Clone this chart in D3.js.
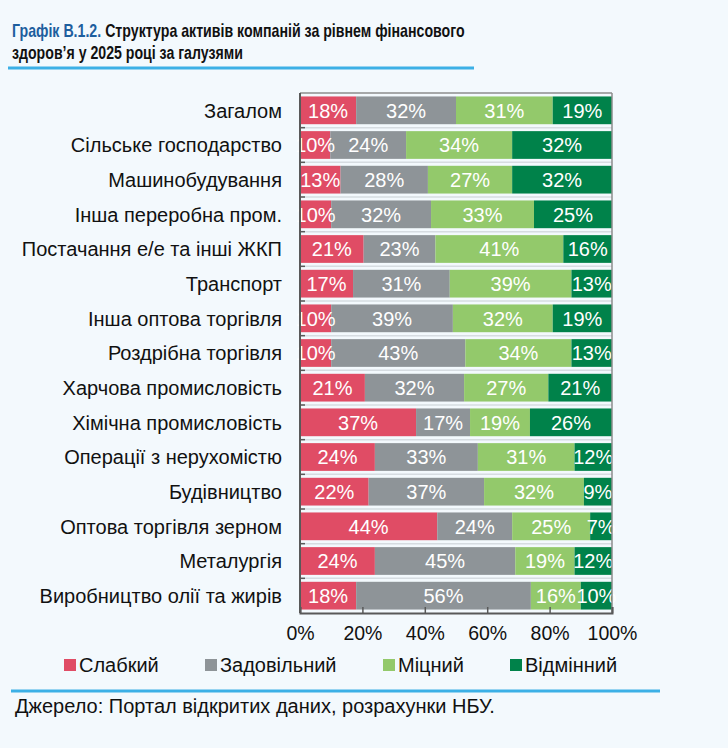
<!DOCTYPE html>
<html>
<head>
<meta charset="utf-8">
<script src="https://cdn.jsdelivr.net/npm/d3@7"></script>
<style>
  body { margin: 0; background: #f3f9fd; }
  svg { display: block; font-family: "Liberation Sans", Arial, sans-serif; }
</style>
</head>
<body>
<div id="chart"></div>
<script>
// industries, top to bottom
var categories = ["Загалом", "Сільське господарство", "Машинобудування", "Інша переробна пром.",
  "Постачання е/е та інші ЖКП", "Транспорт", "Інша оптова торгівля", "Роздрібна торгівля",
  "Харчова промисловість", "Хімічна промисловість", "Операції з нерухомістю", "Будівництво",
  "Оптова торгівля зерном", "Металургія", "Виробництво олії та жирів"]

var seriesNames = ["Слабкий", "Задовільний", "Міцний", "Відмінний"]

// shares, % (bar widths); labels below are the rounded numbers printed on the bars
var weak      = [18, 9.7, 13, 10, 20.4, 17, 10, 10, 20.8, 37.2, 24, 22, 44, 24, 18]
var fair      = [32, 24.3, 28, 32, 23, 31, 39, 43, 31.8, 17.3, 33, 37, 24, 45, 56]
var strong    = [31, 34, 27, 33, 41, 39, 32, 34, 27, 19.2, 31, 32, 25, 19, 16]
var excellent = [19, 32, 32, 25, 15.6, 13, 19, 13, 20.4, 26.3, 12, 9, 7, 12, 10]

var weakLbl      = [18, 10, 13, 10, 21, 17, 10, 10, 21, 37, 24, 22, 44, 24, 18]
var fairLbl      = [32, 24, 28, 32, 23, 31, 39, 43, 32, 17, 33, 37, 24, 45, 56]
var strongLbl    = [31, 34, 27, 33, 41, 39, 32, 34, 27, 19, 31, 32, 25, 19, 16]
var excellentLbl = [19, 32, 32, 25, 16, 13, 19, 13, 21, 26, 12, 9, 7, 12, 10]

var xTicks = [0, 20, 40, 60, 80, 100]

var colors = ["#e04c65", "#8e9498", "#93c96b", "#00824a"]

var W = 728, H = 748
var margin = {top: 93, right: 116, bottom: 135, left: 300}
var width = W - margin.left - margin.right,
    height = H - margin.top - margin.bottom

var svg = d3.select("#chart").append("svg")
  .attr("width", W)
  .attr("height", H)

svg.append("rect").attr("width", W).attr("height", H).attr("fill", "#f3f9fd")

// title: narrow bold look, squeezed horizontally to the reference width
function titleLine(parts, xx, yy, targetW) {
  var t = svg.append("text")
    .attr("font-size", 19).attr("font-weight", "bold")
  parts.forEach(function(p) {
    t.append("tspan").attr("fill", p[1]).text(p[0])
  })
  var len = t.node().getComputedTextLength()
  t.attr("transform", `translate(${xx},${yy}) scale(${targetW / len},1)`)
}
titleLine([["Графік В.1.2. ", "#1d5e9e"], ["Структура активів компаній за рівнем фінансового", "#111"]], 12, 37, 453)
titleLine([["здоров’я у 2025 році за галузями", "#111"]], 12, 59, 231)
svg.append("line")
  .attr("x1", 8).attr("x2", 474).attr("y1", 68).attr("y2", 68)
  .attr("stroke", "#3cb0e6").attr("stroke-width", 3)

var g = svg.append("g").attr("transform", `translate(${margin.left},${margin.top})`)

var x = d3.scaleLinear().domain([0, 100]).range([0, width])
var y = d3.scaleBand().domain(categories).range([0, height]).paddingInner(0.2).paddingOuter(0.1)

// faint separators between rows
var step = y.step()
g.selectAll(".sep")
  .data(d3.range(1, categories.length))
  .join("line")
    .attr("x1", 0).attr("x2", width)
    .attr("y1", d => d * step).attr("y2", d => d * step)
    .attr("stroke", "#d6dce1").attr("stroke-width", 1.5)

// stack
var rows = categories.map(function(c, i) {
  return {cat: c, vals: [weak[i], fair[i], strong[i], excellent[i]],
          lbls: [weakLbl[i], fairLbl[i], strongLbl[i], excellentLbl[i]]}
})
var segs = []
rows.forEach(function(r) {
  var acc = 0
  r.vals.forEach(function(v, k) {
    segs.push({cat: r.cat, k: k, x0: acc, x1: acc + v, lbl: r.lbls[k]})
    acc += v
  })
})

g.selectAll(".seg")
  .data(segs)
  .join("rect")
    .attr("x", d => x(d.x0))
    .attr("width", d => x(d.x1) - x(d.x0))
    .attr("y", d => y(d.cat))
    .attr("height", y.bandwidth())
    .attr("fill", d => colors[d.k])

g.selectAll(".lbl")
  .data(segs)
  .join("text")
    .attr("x", d => x((d.x0 + d.x1) / 2))
    .attr("y", d => y(d.cat) + y.bandwidth() / 2)
    .attr("dy", "0.36em")
    .attr("text-anchor", "middle")
    .attr("font-size", 20)
    .attr("fill", "#fff")
    .text(d => d.lbl + "%")

// frame: top and right
g.append("line").attr("x1", 0).attr("x2", width).attr("y1", 0).attr("y2", 0)
  .attr("stroke", "#8c8c8c").attr("stroke-width", 1.5)
g.append("line").attr("x1", width).attr("x2", width).attr("y1", 0).attr("y2", height)
  .attr("stroke", "#8c8c8c").attr("stroke-width", 1.5)

// left axis with ticks at row boundaries
var yAxisG = g.append("g")
yAxisG.append("line").attr("x1", 0).attr("x2", 0).attr("y1", 0).attr("y2", height)
  .attr("stroke", "#595959").attr("stroke-width", 2)
yAxisG.selectAll(".yt")
  .data(d3.range(1, categories.length))
  .join("line")
    .attr("x1", 0).attr("x2", 5)
    .attr("y1", d => d * step).attr("y2", d => d * step)
    .attr("stroke", "#595959").attr("stroke-width", 1.5)

g.selectAll(".cat")
  .data(categories)
  .join("text")
    .attr("x", -18)
    .attr("y", d => y(d) + y.bandwidth() / 2)
    .attr("dy", "0.36em")
    .attr("text-anchor", "end")
    .attr("font-size", 20)
    .attr("fill", "#111")
    .text(d => d)

// bottom axis, ticks inward
var xAxis = d3.axisBottom(x).tickValues(xTicks).tickSize(-6).tickPadding(13).tickFormat(d => d + "%")
var xg = g.append("g").attr("transform", `translate(0,${height})`).call(xAxis)
xg.select(".domain").attr("stroke", "#595959").attr("stroke-width", 2)
xg.selectAll(".tick line").attr("stroke", "#595959").attr("stroke-width", 1.5)
xg.selectAll(".tick text").attr("font-size", 19.5).attr("fill", "#111")
  .attr("font-family", "Liberation Sans, Arial, sans-serif")

// legend
var legendX = [64, 205, 383, 510]
var lg = svg.append("g").selectAll("g")
  .data(seriesNames)
  .join("g")
    .attr("transform", (d, i) => `translate(${legendX[i]},665)`)
lg.append("rect").attr("x", 0).attr("y", -6).attr("width", 12).attr("height", 12)
  .attr("fill", (d, i) => colors[i])
lg.append("text").attr("x", 15).attr("dy", "0.36em").attr("font-size", 20).attr("fill", "#111")
  .text(d => d)

// source
svg.append("line")
  .attr("x1", 11).attr("x2", 660).attr("y1", 691).attr("y2", 691)
  .attr("stroke", "#3cb0e6").attr("stroke-width", 3)
svg.append("text")
  .attr("x", 15).attr("y", 713)
  .attr("font-size", 20).attr("fill", "#111")
  .text("Джерело: Портал відкритих даних, розрахунки НБУ.")
</script>
</body>
</html>
